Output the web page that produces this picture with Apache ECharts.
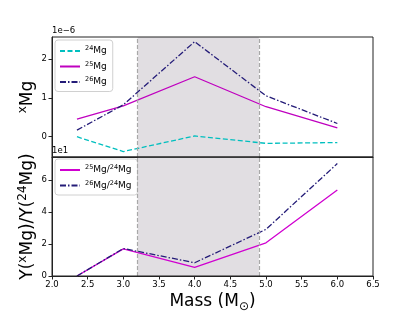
<!DOCTYPE html>
<html><head><meta charset="utf-8">
<script src="https://cdn.jsdelivr.net/npm/echarts@6/dist/echarts.min.js"></script>
<style>html,body{margin:0;padding:0;background:#fff}#c{width:415px;height:311px}</style>
</head><body><div id="c"></div>
<script>
// ---- data (top panel values in units of 1e-6, bottom panel in units of 1e1) ----
const mass = [2.35, 3.0, 4.0, 5.0, 6.0];
const mg24 = [0.0, -0.38, 0.02, -0.17, -0.15];
const mg25 = [0.45, 0.79, 1.54, 0.77, 0.23];
const mg26 = [0.17, 0.82, 2.44, 1.05, 0.34];
const ratio25 = [0.0, 1.70, 0.54, 2.08, 5.38];
const ratio26 = [0.0, 1.72, 0.83, 2.92, 7.04];
const spanRange = [3.2, 4.9];
const xTicks = [2.0, 2.5, 3.0, 3.5, 4.0, 4.5, 5.0, 5.5, 6.0, 6.5];
const yTopTicks = [0, 1, 2];
const yBotTicks = [0, 2, 4, 6];
const topNames = ['24Mg', '25Mg', '26Mg'];
const botNames = ['25Mg/24Mg', '26Mg/24Mg'];

const FONT = 'DejaVu Sans';
const zip = (xs, ys) => xs.map((x, i) => [x, ys[i]]);
const ink = '#222';

// rich-text helper: turn "25Mg/24Mg" into superscripted isotope labels
const legendFmt = name => name.replace(/(\d+)Mg/g, '{s|$1}{n|Mg}').replace('/', '{n|/}');
const legendRich = {
  n: { fontFamily: FONT, fontSize: 9, color: '#000', lineHeight: 12, verticalAlign: 'middle' },
  s: { fontFamily: FONT, fontSize: 6.5, color: '#000', lineHeight: 8, verticalAlign: 'top' }
};
const nameRich = {
  n: { fontFamily: FONT, fontSize: 17, color: '#000', lineHeight: 22, verticalAlign: 'middle' },
  s: { fontFamily: FONT, fontSize: 12, color: '#000', lineHeight: 12, verticalAlign: 'top' },
  b: { fontFamily: FONT, fontSize: 12, color: '#000', lineHeight: 12, verticalAlign: 'bottom' }
};

const spanArea = {
  silent: true,
  itemStyle: { color: 'rgba(200,195,202,0.55)' },
  data: [[{ xAxis: spanRange[0] }, { xAxis: spanRange[1] }]]
};
const spanLines = {
  silent: true, symbol: 'none', label: { show: false },
  lineStyle: { color: '#a8a8a8', type: [4, 2], width: 1.2 },
  data: spanRange.map(v => ({ xAxis: v }))
};

function xAx(idx, showLabels) {
  return {
    type: 'value', gridIndex: idx, min: 2.0, max: 6.5,
    splitLine: { show: false },
    axisLine: { show: true, onZero: false, lineStyle: { color: ink, width: 1 } },
    axisTick: { show: showLabels, length: 3.5, lineStyle: { color: ink }, customValues: xTicks },
    axisLabel: { show: showLabels, customValues: xTicks, formatter: v => v.toFixed(1),
      fontFamily: FONT, fontSize: 8.5, color: '#000', margin: 4 },
    name: showLabels ? '{n|Mass (M}{b|\u2299}{n|)}' : '', nameLocation: 'middle', nameGap: 15,
    nameMoveOverlap: false,
    nameTextStyle: { fontFamily: FONT, fontSize: 17, color: '#000', rich: nameRich }
  };
}
function yAx(idx, min, max, ticks, name, gap) {
  return {
    type: 'value', gridIndex: idx, min: min, max: max,
    splitLine: { show: false },
    axisLine: { show: true, onZero: false, lineStyle: { color: ink, width: 1 } },
    axisTick: { show: true, length: 3.5, lineStyle: { color: ink }, customValues: ticks },
    axisLabel: { customValues: ticks, fontFamily: FONT, fontSize: 8.5, color: '#000', margin: 5 },
    name: name, nameLocation: 'middle', nameGap: gap, nameMoveOverlap: false,
    nameTextStyle: { fontFamily: FONT, fontSize: 17, color: '#000', rich: nameRich }
  };
}

const lineCommon = { type: 'line', symbol: 'none', showSymbol: false, silent: true };
const legendCommon = {
  left: 55, orient: 'vertical', itemWidth: 20, itemHeight: 10, itemGap: 5,
  padding: [5, 6, 5, 4], borderColor: '#d0d0d0', borderWidth: 1, borderRadius: 3,
  backgroundColor: 'rgba(255,255,255,0.85)',
  itemStyle: { opacity: 0 },
  formatter: legendFmt,
  textStyle: { fontFamily: FONT, fontSize: 9, color: '#000', rich: legendRich }
};

const option = {
  animation: false,
  backgroundColor: '#fff',
  textStyle: { fontFamily: FONT },
  grid: [
    { left: 52, top: 37, width: 321, height: 120, show: true, borderColor: ink, borderWidth: 1,
      backgroundColor: 'transparent', z: 10, outerBoundsMode: 'none', containLabel: false },
    { left: 52, top: 157, width: 321, height: 119, show: true, borderColor: ink, borderWidth: 1,
      backgroundColor: 'transparent', z: 10, outerBoundsMode: 'none', containLabel: false }
  ],
  xAxis: [xAx(0, false), xAx(1, true)],
  yAxis: [
    yAx(0, -0.52, 2.56, yTopTicks, '{s|x}{n|Mg}', 13),
    yAx(1, 0, 7.45, yBotTicks, '{n|Y(}{s|x}{n|Mg)/Y(}{s|24}{n|Mg)}', 13)
  ],
  legend: [
    Object.assign({}, legendCommon, { data: topNames, top: 40 }),
    Object.assign({}, legendCommon, { data: botNames, top: 159 })
  ],
  graphic: [
    { type: 'text', left: 52, top: 26, style: { text: '1e\u22126', font: '8.5px "DejaVu Sans"', fill: '#000' } },
    { type: 'text', left: 52, top: 146, z: 20, style: { text: '1e1', font: '8.5px "DejaVu Sans"', fill: '#000' } }
  ],
  series: [
    Object.assign({}, lineCommon, { name: topNames[0], xAxisIndex: 0, yAxisIndex: 0, data: zip(mass, mg24),
      color: '#00bfbf', lineStyle: { color: '#00bfbf', width: 1.3, type: [5, 2.5] },
      markArea: spanArea, markLine: spanLines }),
    Object.assign({}, lineCommon, { name: topNames[1], xAxisIndex: 0, yAxisIndex: 0, data: zip(mass, mg25),
      color: '#bf00bf', lineStyle: { color: '#bf00bf', width: 1.3 } }),
    Object.assign({}, lineCommon, { name: topNames[2], xAxisIndex: 0, yAxisIndex: 0, data: zip(mass, mg26),
      color: '#241c78', lineStyle: { color: '#241c78', width: 1.3, type: [6, 2, 1.5, 2] } }),
    Object.assign({}, lineCommon, { name: botNames[0], xAxisIndex: 1, yAxisIndex: 1, data: zip(mass, ratio25),
      color: '#d000d0', lineStyle: { color: '#d000d0', width: 1.3 },
      markArea: spanArea, markLine: spanLines }),
    Object.assign({}, lineCommon, { name: botNames[1], xAxisIndex: 1, yAxisIndex: 1, data: zip(mass, ratio26),
      color: '#241c78', lineStyle: { color: '#241c78', width: 1.3, type: [6, 2, 1.5, 2] } })
  ]
};
const chart = echarts.init(document.getElementById('c'), null, { renderer: 'canvas' });
chart.setOption(option);
</script></body></html>
